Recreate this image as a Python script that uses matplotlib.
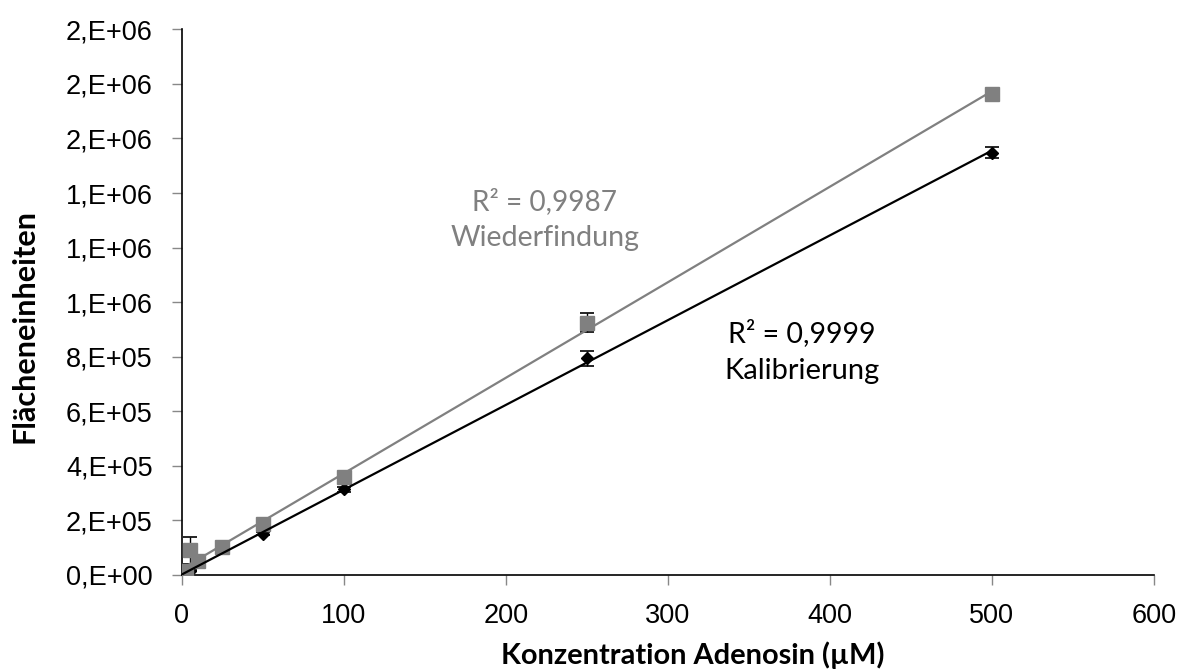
import numpy as np
import matplotlib
matplotlib.use("Agg")
import matplotlib.pyplot as plt
from matplotlib.ticker import FuncFormatter, MultipleLocator

# ---- data ----
conc_wieder = [1, 2.5, 5, 10, 25, 50, 100, 250, 500]
wieder = [8e3, 15e3, 90e3, 50e3, 104e3, 188e3, 361e3, 925e3, 1763e3]
wieder_sd = [2e3, 3e3, 50e3, 5e3, 5e3, 6e3, 8e3, 34e3, 12e3]

conc_kalib = [1, 2.5, 5, 50, 100, 250, 500]
kalib = [3e3, 8e3, 16e3, 152e3, 314e3, 794e3, 1548e3]
kalib_sd = [1e3, 1e3, 2e3, 6e3, 9e3, 28e3, 21e3]

r2_wieder = "R² = 0,9987"
r2_kalib = "R² = 0,9999"
label_wieder = "Wiederfindung"
label_kalib = "Kalibrierung"
xlabel = "Konzentration Adenosin (µM)"
ylabel = "Flächeneinheiten"

GREY = "#808080"

W, H = 1184, 670
fig = plt.figure(figsize=(W / 100, H / 100), dpi=100)
ax = fig.add_axes([181.7 / W, 1 - 575 / H, (1154 - 181.7) / W, (575 - 29.3) / H])

ax.errorbar(conc_kalib, kalib, yerr=kalib_sd, fmt="D", color="black", ms=6.5,
            ecolor="black", elinewidth=1.0, capsize=5, capthick=1.2, zorder=3)
ax.errorbar(conc_wieder, wieder, yerr=wieder_sd, fmt="s", color=GREY, ms=10,
            mec=GREY, ecolor="black", elinewidth=1.0, capsize=5, capthick=1.2, zorder=4)

for xv, yv, col in ((conc_wieder, wieder, GREY), (conc_kalib, kalib, "black")):
    x = np.array(xv)
    p = np.polyfit(x, np.array(yv), 1)
    xs = np.array([0, x.max()])
    ax.plot(xs, np.polyval(p, xs), color=col, lw=1.6, zorder=5)

ax.set_xlim(0, 600)
ax.set_ylim(0, 2e6)
ax.xaxis.set_major_locator(MultipleLocator(100))
ax.yaxis.set_major_locator(MultipleLocator(2e5))


def fmt(v, pos):
    s = "{:.0E}".format(v)
    return s.replace("E", ",E")


ax.yaxis.set_major_formatter(FuncFormatter(fmt))

for s in ("top", "right"):
    ax.spines[s].set_visible(False)
for s in ("left", "bottom"):
    ax.spines[s].set_linewidth(1.2)
    ax.spines[s].set_color("black")

tickfont = "Liberation Sans"
ax.tick_params(axis="both", direction="out", length=7, width=1, color="#888888",
               labelsize=19.5, labelcolor="black")
ax.tick_params(axis="y", pad=14)
ax.tick_params(axis="x", pad=13)
for lab in ax.get_xticklabels() + ax.get_yticklabels():
    lab.set_fontfamily(tickfont)

renderer = fig.canvas.get_renderer()


def fit_text(t, target_px, horizontal=True):
    bb = t.get_window_extent(renderer)
    cur = bb.width if horizontal else bb.height
    t.set_fontsize(t.get_fontsize() * target_px / cur)


def px(xp, yp):
    return xp / W, 1 - yp / H


tx = fig.text(*px(693, 655), xlabel, ha="center", va="center",
              fontsize=20, fontweight="bold", family="Lato")
fit_text(tx, 383)
ty = fig.text(*px(25, 326), ylabel, ha="center", va="center", rotation=90,
              fontsize=20, fontweight="bold", family="Lato")
fit_text(ty, 234, horizontal=False)

annos = [
    (r2_wieder, 544, 210, 145, GREY),
    (label_wieder, 545, 245.7, 190, GREY),
    (r2_kalib, 802, 341.7, 148, "black"),
    (label_kalib, 802, 379.3, 156, "black"),
]
for s, xc, yb, wpx, col in annos:
    t = fig.text(*px(xc, yb), s, ha="center", va="baseline", fontsize=20,
                 color=col, family="Lato")
    fit_text(t, wpx)

fig.savefig("out.png", dpi=100)
